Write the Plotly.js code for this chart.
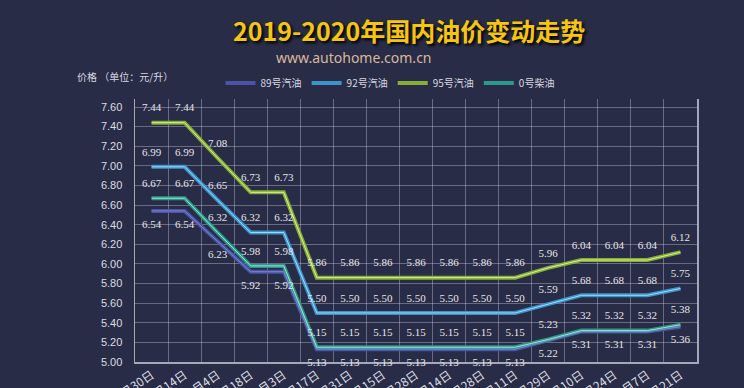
<!DOCTYPE html>
<html>
<head>
<meta charset="utf-8">
<script src="https://cdn.plot.ly/plotly-3.0.1.min.js"></script>
<style>
html,body{margin:0;padding:0;background:#282c46;}
#chart{width:744px;height:388px;}
</style>
</head>
<body>
<div id="chart"></div>
<script>
const categories = ["12月30日","1月14日","2月4日","2月18日","3月3日","3月17日","3月31日","4月15日","4月28日","5月14日","5月28日","6月11日","6月29日","7月10日","7月24日","8月7日","8月21日"];
const gas89 = [6.54,6.54,6.23,5.92,5.92,5.13,5.13,5.13,5.13,5.13,5.13,5.13,5.22,5.31,5.31,5.31,5.36];
const gas92 = [6.99,6.99,6.65,6.32,6.32,5.50,5.50,5.50,5.50,5.50,5.50,5.50,5.59,5.68,5.68,5.68,5.75];
const gas95 = [7.44,7.44,7.08,6.73,6.73,5.86,5.86,5.86,5.86,5.86,5.86,5.86,5.96,6.04,6.04,6.04,6.12];
const diesel0 = [6.67,6.67,6.32,5.98,5.98,5.15,5.15,5.15,5.15,5.15,5.15,5.15,5.23,5.32,5.32,5.32,5.38];
const seriesNames = ["89号汽油","92号汽油","95号汽油","0号柴油"];
const yTicks = [5.0,5.2,5.4,5.6,5.8,6.0,6.2,6.4,6.6,6.8,7.0,7.2,7.4,7.6];

const series = [
  {name: seriesNames[0], y: gas89, color: "#4a54a6", inner: "#7f88cf", pos: "bottom center"},
  {name: seriesNames[1], y: gas92, color: "#3b95cc", inner: "#a6d8f2", pos: "top center"},
  {name: seriesNames[2], y: gas95, color: "#86ad35", inner: "#d9ef9c", pos: "top center"},
  {name: seriesNames[3], y: diesel0, color: "#2c9a8a", inner: "#9fe2d4", pos: "top center"}
];

const traces = [];
series.forEach(s => {
  traces.push({
    x: categories, y: s.y, name: s.name, type: "scatter", mode: "lines",
    line: {color: s.color, width: 4},
    hoverinfo: "skip"
  });
});
series.forEach(s => {
  traces.push({
    x: categories, y: s.y, type: "scatter", mode: "lines",
    line: {color: s.inner, width: 1},
    showlegend: false, hoverinfo: "skip"
  });
});
series.forEach(s => {
  traces.push({
    x: categories, y: s.y, type: "scatter", mode: "markers+text",
    marker: {size: 12, opacity: 0, color: s.color},
    text: s.y.map(v => v.toFixed(2)),
    textposition: s.pos,
    textfont: {family: "Liberation Serif", size: 11, color: "#e6e6ea"},
    cliponaxis: false, showlegend: false, hoverinfo: "skip"
  });
});

const layout = {
  width: 744, height: 388,
  paper_bgcolor: "#282c46", plot_bgcolor: "#282c46",
  margin: {l: 135, r: 47, t: 99, b: 26},
  title: {
    text: "<b>2019-2020年国内油价变动走势</b>",
    font: {family: "Noto Sans CJK SC", size: 25, color: "#f6c511", shadow: "2px 2px 3px #000"},
    x: 363/744, xanchor: "center", xref: "paper",
    y: 1 - 32/388, yanchor: "middle", yref: "container"
  },
  showlegend: true,
  legend: {
    orientation: "h", xref: "container", yref: "container",
    x: 390/744, xanchor: "center", y: 1 - 83/388, yanchor: "middle",
    font: {family: "Noto Sans CJK SC", size: 10, color: "#d8d8e0"},
    bgcolor: "rgba(0,0,0,0)", itemwidth: 30, tracegroupgap: 0
  },
  xaxis: {
    type: "category", range: [-0.5, 16.5], tickson: "boundaries",
    showgrid: true, gridcolor: "rgba(210,210,230,0.38)", gridwidth: 1,
    showline: true, linecolor: "rgba(220,220,235,0.7)", linewidth: 1.5,
    ticks: "", tickangle: -35,
    tickfont: {family: "Noto Sans CJK SC", size: 12, color: "#dcdce4"},
    automargin: false, fixedrange: true
  },
  yaxis: {
    range: [5, 7.6 + 8/98.08], tickvals: yTicks, ticktext: yTicks.map(v => v.toFixed(2)),
    showgrid: true, gridcolor: "rgba(210,210,230,0.38)", gridwidth: 1,
    showline: true, linecolor: "rgba(220,220,235,0.7)", linewidth: 1.5, mirror: true,
    zeroline: false, ticks: "", ticklabelstandoff: 9,
    tickfont: {family: "Liberation Sans", size: 11, color: "#dcdce4"},
    automargin: false, fixedrange: true
  },
  annotations: [
    {text: "www.autohome.com.cn", xref: "paper", yref: "paper",
     x: (354-135)/562, y: 1 + (99-58)/263, xanchor: "center", yanchor: "middle",
     showarrow: false, font: {family: "Noto Sans", size: 14, color: "#d9b89c"}},
    {text: "价格 （单位：元/升）", xref: "paper", yref: "paper",
     x: (75-135)/562, y: 1 + (99-77)/263, xanchor: "left", yanchor: "middle",
     showarrow: false, font: {family: "Noto Sans CJK SC", size: 10, color: "#d8d8e0"}}
  ]
};

Plotly.newPlot("chart", traces, layout, {displayModeBar: false, staticPlot: true});
</script>
</body>
</html>
